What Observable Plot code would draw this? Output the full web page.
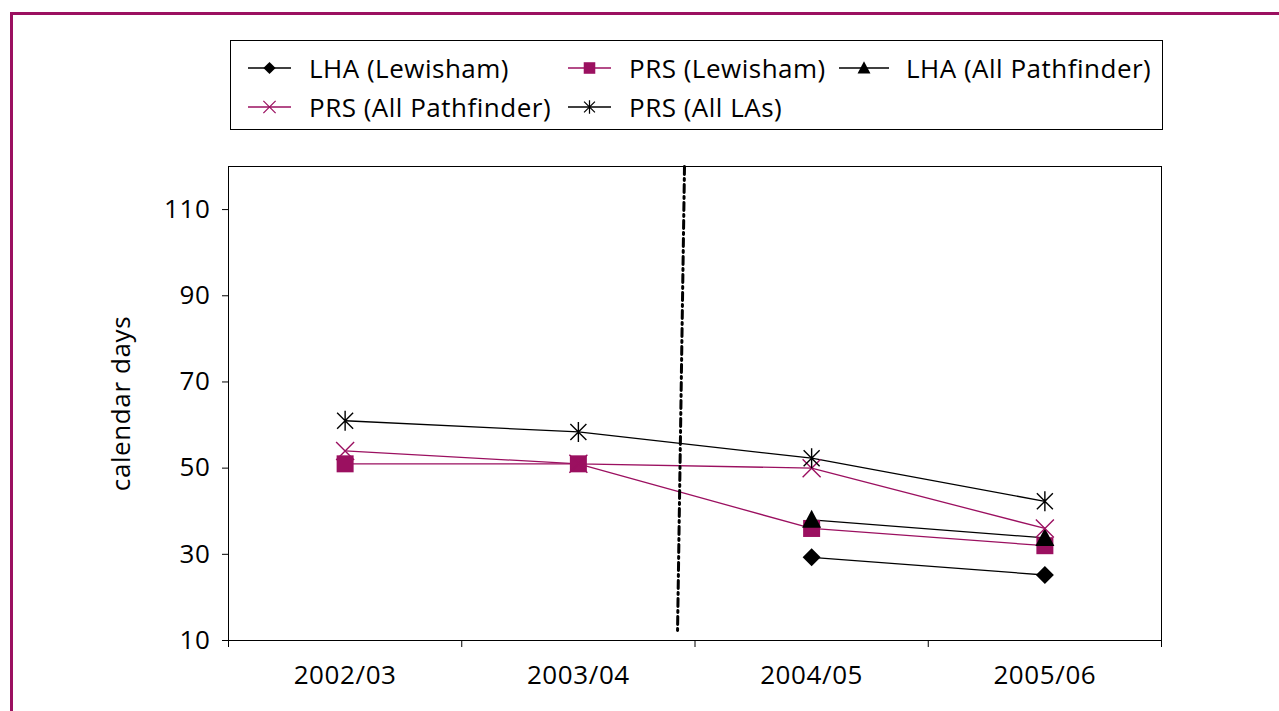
<!DOCTYPE html>
<html><head><meta charset="utf-8">
<script src="https://cdn.jsdelivr.net/npm/d3@7"></script>
<script src="https://cdn.jsdelivr.net/npm/@observablehq/plot@0.6"></script>
<style>
body{margin:0;background:#fff;font-family:"Open Sans",sans-serif;width:1279px;height:711px;overflow:hidden;position:relative;}
#frame{position:absolute;left:10px;top:12px;width:1400px;height:800px;border-left:3px solid #9b1060;border-top:3px solid #9b1060;}
#legend{position:absolute;left:230px;top:40px;width:931px;height:88px;border:1px solid #000;background:#fff;}
.item{position:absolute;display:flex;align-items:center;font-size:26px;letter-spacing:0.5px;line-height:1;white-space:nowrap;}
#chart{position:absolute;left:0;top:150px;}
#chart svg text{letter-spacing:0.6px;}
</style></head><body>
<div id="frame"></div>
<div id="legend"></div>
<div id="chart"></div>
<script>
const years = ["2002/03", "2003/04", "2004/05", "2005/06"];
const lhaLewisham   = [null, null, 29.3, 25.2];
const prsLewisham   = [51, 51, 36, 32];
const lhaPathfinder = [null, null, 38, 33.8];
const prsPathfinder = [54, 51, 50, 36];
const prsAllLAs     = [61, 58.4, 52.3, 42.3];
const yTicks = [10, 30, 50, 70, 90, 110];
const dividerX = [1.455, 1.425];
const dividerY = [120, 11.5];

const MAG = "#9b1060";
const symDiamond = {draw(c){c.moveTo(0,-9);c.lineTo(9,0);c.lineTo(0,9);c.lineTo(-9,0);c.closePath();}};
const symSquare = {draw(c){c.rect(-8.5,-8.5,17,17);}};
const symTriangle = {draw(c){c.moveTo(0,-10);c.lineTo(9.5,8);c.lineTo(-9.5,8);c.closePath();}};
const symTimes = {draw(c){c.moveTo(-9,-9);c.lineTo(9,9);c.moveTo(-9,9);c.lineTo(9,-9);}};
const symStar = {draw(c){c.moveTo(0,-10);c.lineTo(0,10);c.moveTo(-8,-8);c.lineTo(8,8);c.moveTo(-8,8);c.lineTo(8,-8);}};

const series = [
  {name:"LHA (Lewisham)", values:lhaLewisham, color:"#000", symbol:symDiamond, filled:true, lx:17, ly:27},
  {name:"PRS (Lewisham)", values:prsLewisham, color:MAG, symbol:symSquare, filled:true, lx:337, ly:27},
  {name:"LHA (All Pathfinder)", values:lhaPathfinder, color:"#000", symbol:symTriangle, filled:true, lx:608, ly:27},
  {name:"PRS (All Pathfinder)", values:prsPathfinder, color:MAG, symbol:symTimes, filled:false, lx:17, ly:66},
  {name:"PRS (All LAs)", values:prsAllLAs, color:"#000", symbol:symStar, filled:false, lx:337, ly:66}
];

// legend
const legend = document.getElementById("legend");
series.forEach(s => {
  const p = d3.path(); s.symbol.draw(p);
  const wide = s.name.startsWith("LHA (All");
  const lw = wide ? 50 : 43;
  const div = document.createElement("div");
  div.className = "item";
  div.style.left = s.lx + "px";
  div.style.top = (s.ly - 14) + "px";
  div.style.height = "28px";
  div.innerHTML = `<svg width="${lw}" height="28" style="margin-right:${wide?17:18}px;flex:none"><line x1="0" x2="${lw}" y1="14" y2="14" stroke="${s.color}" stroke-width="1.3"/><path transform="translate(${lw/2},14) scale(0.68)" d="${p.toString()}" fill="${s.filled?s.color:"none"}" stroke="${s.color}" stroke-width="${s.filled?0:1.8}"/></svg><span>${s.name}</span>`;
  legend.appendChild(div);
});

const marks = [
  Plot.frame({stroke:"#000", strokeWidth:1}),
  Plot.axisY({ticks:yTicks, tickSize:6, tickPadding:12, label:"calendar days", labelAnchor:"center", labelArrow:"none", labelOffset:117, fontSize:26}),
  Plot.axisX({ticks:[-0.5,0.5,1.5,2.5,3.5], tickSize:7, tickFormat:()=>"", label:null}),
  Plot.axisX({ticks:[0,1,2,3], tickSize:0, tickPadding:25, tickFormat:i=>years[i], label:null, fontSize:26})
];
series.forEach(s => {
  const rows = s.values.map((v,i)=>({x:i, y:v})).filter(d=>d.y!=null);
  marks.push(Plot.line(rows, {x:"x", y:"y", stroke:s.color, strokeWidth:1.3}));
});
marks.push(Plot.line(dividerX.map((x,i)=>({x, y:dividerY[i]})), {x:"x", y:"y", stroke:"#000", strokeWidth:3, strokeDasharray:"8,4,2,4"}));
series.forEach(s => {
  const rows = s.values.map((v,i)=>({x:i, y:v})).filter(d=>d.y!=null);
  marks.push(Plot.dot(rows, {x:"x", y:"y", symbol:()=>s.symbol, r:5, fill:s.filled?s.color:"none", stroke:s.filled?"none":s.color, strokeWidth:1.4}));
});

const chart = Plot.plot({
  width:1279, height:561,
  marginLeft:228, marginRight:118, marginTop:16, marginBottom:71,
  style:{fontFamily:"Open Sans", fontSize:"26px", color:"#000", background:"transparent", overflow:"visible"},
  x:{domain:[-0.5,3.5]},
  y:{domain:[10,120]},
  symbol:{type:"identity"},
  marks
});
document.getElementById("chart").appendChild(chart);
</script>
</body></html>
